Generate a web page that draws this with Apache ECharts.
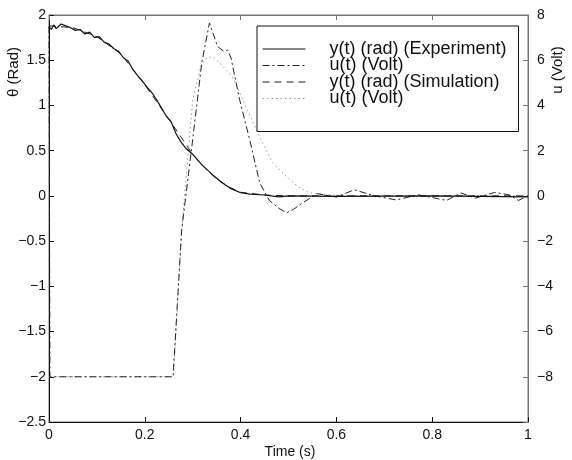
<!DOCTYPE html>
<html>
<head>
    <meta charset="UTF-8">
    <title>Theta and u response</title>
</head>
<body style="margin:0;background:#fff;">
    <div id="main" style="width: 572px;height:460px;"></div>
    <script src="https://cdn.jsdelivr.net/npm/echarts@6.0.0/dist/echarts.min.js"></script>
    <script type="text/javascript">
        // measured theta (rad), wiggly
        const tExp = [0, 0.005, 0.01, 0.015, 0.025, 0.035, 0.045, 0.055, 0.065, 0.075, 0.085, 0.095, 0.105,
            0.115, 0.125, 0.135, 0.145, 0.155, 0.165, 0.175, 0.185, 0.195, 0.205, 0.215, 0.225, 0.235,
            0.245, 0.255, 0.265, 0.275, 0.285, 0.3, 0.32, 0.34, 0.36, 0.38, 0.4, 0.42, 0.45, 0.48, 0.5,
            0.6, 0.8, 1.0];
        const yExp = [1.87, 1.84, 1.89, 1.85, 1.90, 1.88, 1.86, 1.83, 1.84, 1.79, 1.81, 1.75, 1.76,
            1.70, 1.68, 1.63, 1.60, 1.53, 1.49, 1.40, 1.33, 1.27, 1.20, 1.14, 1.06, 0.97,
            0.88, 0.82, 0.69, 0.60, 0.53, 0.46, 0.34, 0.24, 0.15, 0.08, 0.035, 0.02, 0.01, -0.01, 0.0,
            -0.005, 0.0, -0.01];

        // simulated theta (rad)
        const tSim = [0, 0.05, 0.1, 0.15, 0.2, 0.25, 0.3, 0.325, 0.35, 0.375, 0.4, 0.45, 0.5, 0.6, 0.8, 1.0];
        const ySim = [1.88, 1.86, 1.76, 1.57, 1.23, 0.85, 0.46, 0.31, 0.19, 0.10, 0.04, 0.01, 0, 0, 0, 0];

        // measured u (Volt)
        const tU = [0, 0.002, 0.259, 0.277, 0.3, 0.319, 0.335, 0.352, 0.365, 0.373, 0.38, 0.398, 0.419,
            0.44, 0.46, 0.48, 0.496, 0.51, 0.53, 0.56, 0.6, 0.637, 0.68, 0.725, 0.77, 0.83, 0.86,
            0.89, 0.93, 0.96, 0.98, 1.0];
        const uExp = [7.5, -8, -8, -1.5, 2.5, 5.9, 7.65, 6.6, 6.4, 6.45, 6.1, 4.25, 2.48,
            0.57, -0.2, -0.55, -0.75, -0.6, -0.3, 0.1, -0.05, 0.27, 0.0, -0.18, 0.05, -0.2, 0.13,
            -0.1, 0.15, 0.05, -0.2, 0];

        // simulated u (Volt)
        const tUs = [0, 0.26, 0.277, 0.3, 0.318, 0.331, 0.345, 0.36, 0.383, 0.41, 0.44, 0.467, 0.496,
            0.52, 0.544, 0.6, 0.7, 1.0];
        const uSim = [-8, -8, -1.5, 4.25, 5.8, 6.15, 6.1, 5.8, 5.27, 4.0, 2.6, 1.46, 0.85,
            0.4, 0.13, 0.02, 0, 0];

        const seriesNames = ['y(t) (rad) (Experiment)', 'u(t) (Volt)', 'y(t) (rad) (Simulation)', 'u(t) (Volt) sim'];
        const legendLabels = ['y(t) (rad) (Experiment)', 'u(t) (Volt)', 'y(t) (rad) (Simulation)', 'u(t) (Volt)'];

        function pairs(xs, ys) {
            return xs.map(function (x, i) { return [x, ys[i]]; });
        }
        function minus(v) {
            return String(v).replace('-', '\u2212');
        }

        const font = "'Liberation Sans', Arial, Helvetica, sans-serif";
        var myChart = echarts.init(document.getElementById('main'));

        let option = {
            backgroundColor: '#fff',
            animation: false,
            grid: { left: 49, right: 44, top: 15, bottom: 38, show: true, borderColor: '#777', borderWidth: 1 },
            legend: {
                orient: 'vertical',
                left: 257,
                top: 26,
                padding: [14, 12, 24, 5],
                itemWidth: 43,
                itemHeight: 14,
                itemGap: -1.5,
                backgroundColor: '#fff',
                borderColor: '#111',
                borderWidth: 1,
                itemStyle: { opacity: 0 },
                lineStyle: { width: 1 },
                data: seriesNames,
                formatter: function (n) { return legendLabels[seriesNames.indexOf(n)]; },
                textStyle: { fontFamily: font, fontSize: 18, color: '#111', lineHeight: 16, padding: [0, 0, 0, 19] }
            },
            xAxis: [{
                type: 'value', min: 0, max: 1, interval: 0.2,
                axisLine: { onZero: false, lineStyle: { color: '#111' } },
                axisTick: { inside: true, length: 5, lineStyle: { color: '#111' } },
                axisLabel: { margin: 6, fontFamily: font, fontSize: 14, color: '#111', formatter: minus },
                splitLine: { show: false }
            }, {
                type: 'value', min: 0, max: 1, interval: 0.2, position: 'top',
                axisLine: { onZero: false, lineStyle: { color: '#777' } },
                axisTick: { inside: true, length: 5, lineStyle: { color: '#777' } },
                axisLabel: { show: false },
                splitLine: { show: false }
            }],
            yAxis: [{
                type: 'value', min: -2.5, max: 2, interval: 0.5, position: 'left',
                axisLine: { show: true, onZero: false, lineStyle: { color: '#111' } },
                axisTick: { show: true, inside: true, length: 5, lineStyle: { color: '#111' } },
                axisLabel: { margin: 3, fontFamily: font, fontSize: 14, color: '#111', formatter: minus },
                splitLine: { show: false }
            }, {
                type: 'value', min: -10, max: 8, interval: 2, position: 'right',
                axisLine: { show: true, onZero: false, lineStyle: { color: '#777' } },
                axisTick: { show: true, inside: true, length: 5, lineStyle: { color: '#777' } },
                axisLabel: {
                    margin: 9, fontFamily: font, fontSize: 14, color: '#111',
                    formatter: function (v) { return v === -10 ? '' : minus(v); }
                },
                splitLine: { show: false }
            }],
            graphic: [
                { type: 'text', x: 14, y: 72, rotation: Math.PI / 2,
                  style: { text: '\u03B8 (Rad)', font: '15px ' + font, fill: '#111', align: 'center', verticalAlign: 'middle' } },
                { type: 'text', x: 558, y: 70, rotation: Math.PI / 2,
                  style: { text: 'u (Volt)', font: '15px ' + font, fill: '#111', align: 'center', verticalAlign: 'middle' } },
                { type: 'text', x: 290, y: 452,
                  style: { text: 'Time (s)', font: '14px ' + font, fill: '#111', align: 'center', verticalAlign: 'middle' } }
            ],
            series: [{
                name: seriesNames[0], type: 'line', yAxisIndex: 0, symbol: 'none',
                data: pairs(tExp, yExp),
                lineStyle: { color: '#111', width: 1.2, type: 'solid' },
                itemStyle: { color: '#111' }, z: 4
            }, {
                name: seriesNames[1], type: 'line', yAxisIndex: 1, symbol: 'none',
                data: pairs(tU, uExp),
                lineStyle: { color: '#222', width: 1, type: [7, 3, 2, 3] },
                itemStyle: { color: '#222' }, z: 3
            }, {
                name: seriesNames[2], type: 'line', yAxisIndex: 0, symbol: 'none',
                data: pairs(tSim, ySim),
                lineStyle: { color: '#222', width: 1, type: [7, 5] },
                itemStyle: { color: '#222' }, z: 3
            }, {
                name: seriesNames[3], type: 'line', yAxisIndex: 1, symbol: 'none',
                data: pairs(tUs, uSim),
                lineStyle: { color: '#999', width: 1, type: [1.5, 3] },
                itemStyle: { color: '#999' }, z: 2
            }]
        };

        myChart.setOption(option);
    </script>
</body>
</html>
